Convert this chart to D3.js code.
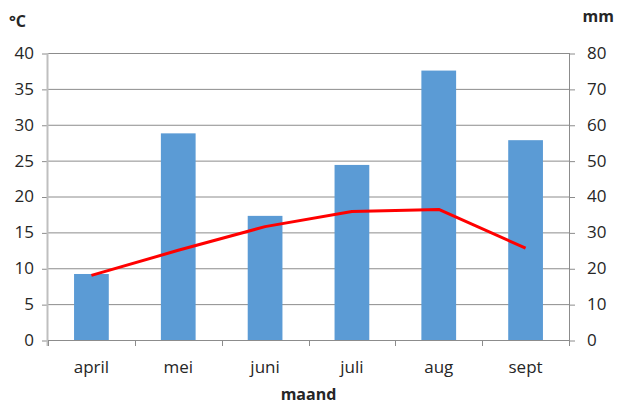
<!DOCTYPE html>
<html>
<head>
<meta charset="utf-8">
<script src="https://cdn.jsdelivr.net/npm/d3@7"></script>
<style>
body{margin:0;background:#fff;}
text{font-family:"Open Sans","Liberation Sans",sans-serif;fill:#262626;}
</style>
</head>
<body>
<div id="chart"></div>
<script>
// data
var maanden=["april","mei","juni","juli","aug","sept"];
var neerslag=[18.4,57.6,34.6,48.8,75.1,55.7];   // mm, bars
var temperatuur=[9.0,12.5,15.8,17.9,18.2,12.8]; // °C, line
var tempTicks=[0,5,10,15,20,25,30,35,40];
var mmTicks=[0,10,20,30,40,50,60,70,80];

var W=617,H=407;
var m={left:48,right:48,top:53,bottom:67};

var svg=d3.select("#chart").append("svg").attr("width",W).attr("height",H);

var x=d3.scaleBand().domain(maanden).range([m.left,W-m.right]).paddingInner(0.6).paddingOuter(0.3);
var yT=d3.scaleLinear().domain([0,40]).range([H-m.bottom,m.top]);
var yM=d3.scaleLinear().domain([0,80]).range([H-m.bottom,m.top]);

// gridlines
svg.append("g").selectAll("line").data(tempTicks).enter().append("line")
	.attr("x1",m.left).attr("x2",W-m.right)
	.attr("y1",function(d){return yT(d)+0.5;}).attr("y2",function(d){return yT(d)+0.5;})
	.attr("stroke","#8c8c8c").attr("stroke-width",1);

// bars
svg.append("g").selectAll("rect").data(neerslag).enter().append("rect")
	.attr("x",function(d,i){return x(maanden[i]);})
	.attr("width",x.bandwidth())
	.attr("y",function(d){return yM(d);})
	.attr("height",function(d){return yM(0)-yM(d);})
	.attr("fill","#5b9bd5");

// left axis
var axL=svg.append("g").attr("transform","translate("+m.left+",0)")
	.call(d3.axisLeft(yT).tickValues(tempTicks).tickSize(6).tickPadding(8));
axL.select(".domain").remove();
axL.selectAll(".tick line").attr("stroke","#8c8c8c").attr("transform","translate(0,0.5)");
axL.selectAll("text").attr("font-size",17).attr("fill","#262626").style("font-family","'Open Sans','Liberation Sans',sans-serif");
svg.append("line").attr("x1",m.left-0.5).attr("x2",m.left-0.5).attr("y1",m.top).attr("y2",H-m.bottom+6)
	.attr("stroke","#bfbfbf").attr("stroke-width",2);

// right axis
var axR=svg.append("g").attr("transform","translate("+(W-m.right)+",0)")
	.call(d3.axisRight(yM).tickValues(mmTicks).tickSize(6).tickPadding(12));
axR.select(".domain").remove();
axR.selectAll(".tick line").attr("stroke","#8c8c8c").attr("transform","translate(0,0.5)");
axR.selectAll("text").attr("font-size",17).attr("fill","#262626").style("font-family","'Open Sans','Liberation Sans',sans-serif");
svg.append("line").attr("x1",W-m.right+0.5).attr("x2",W-m.right+0.5).attr("y1",m.top).attr("y2",H-m.bottom+6)
	.attr("stroke","#8c8c8c").attr("stroke-width",1);

// bottom axis
var step=x.step();
var axB=svg.append("g").attr("transform","translate(0,"+(H-m.bottom)+")");
axB.append("line").attr("x1",m.left).attr("x2",W-m.right).attr("y1",0.5).attr("y2",0.5).attr("stroke","#8c8c8c");
axB.selectAll("line.tk").data(d3.range(maanden.length+1)).enter().append("line").attr("class","tk")
	.attr("x1",function(i){return Math.round(m.left+i*(W-m.left-m.right)/maanden.length)+0.5;})
	.attr("x2",function(i){return Math.round(m.left+i*(W-m.left-m.right)/maanden.length)+0.5;})
	.attr("y1",0).attr("y2",6).attr("stroke","#8c8c8c");
axB.selectAll("text").data(maanden).enter().append("text")
	.attr("x",function(d){return x(d)+x.bandwidth()/2;})
	.attr("y",33).attr("text-anchor","middle").attr("font-size",17)
	.text(function(d){return d;});

// temperature line
var lijn=d3.line()
	.x(function(d,i){return x(maanden[i])+x.bandwidth()/2;})
	.y(function(d){return yT(d);});
svg.append("path").datum(temperatuur).attr("d",lijn)
	.attr("fill","none").attr("stroke","#ff0000").attr("stroke-width",3).attr("stroke-linejoin","round");

// titles
svg.append("text").attr("x",9).attr("y",27).attr("font-size",16).attr("font-weight","bold").attr("fill","#000").text("°C");
svg.append("text").attr("x",614).attr("y",22).attr("text-anchor","end").attr("font-size",16).attr("font-weight","bold").attr("fill","#000").text("mm");
svg.append("text").attr("x",(m.left+W-m.right)/2).attr("y",400).attr("text-anchor","middle").attr("font-size",16).attr("font-weight","bold").attr("fill","#000").text("maand");
</script>
</body>
</html>
